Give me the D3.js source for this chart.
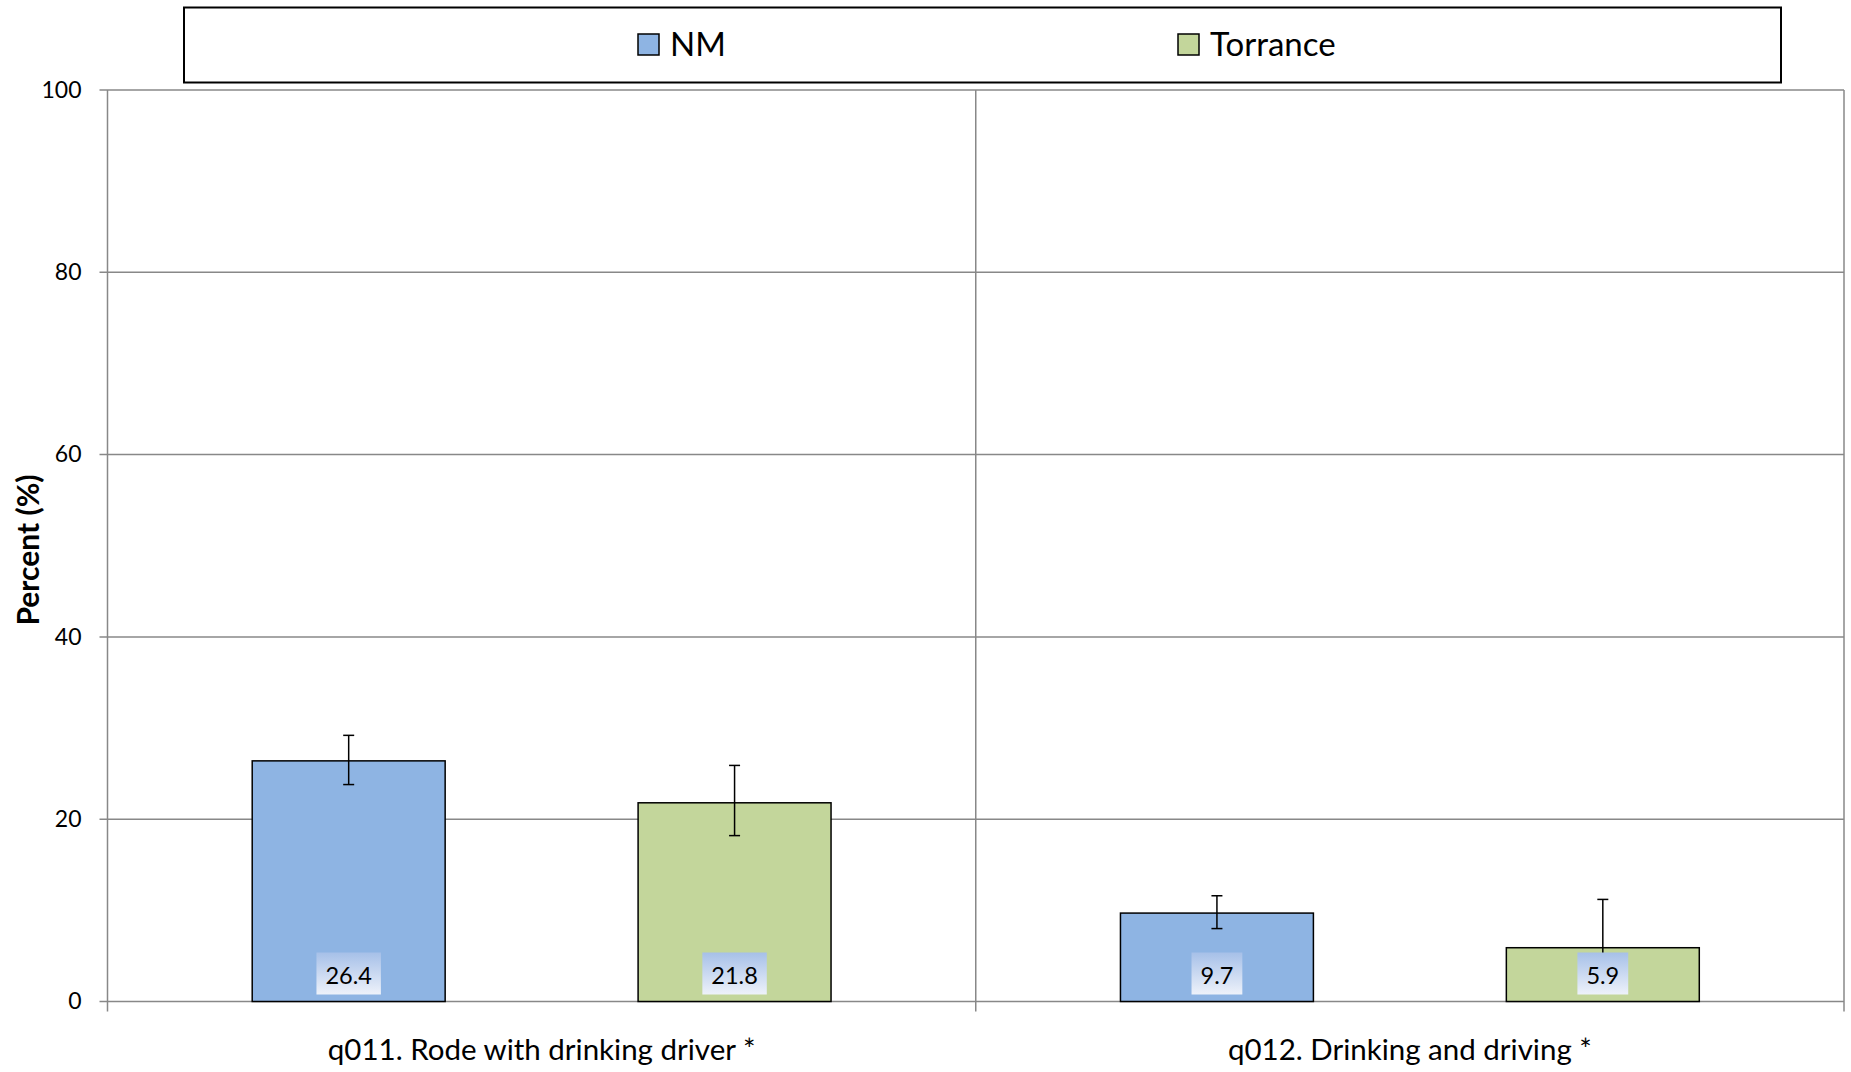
<!DOCTYPE html>
<html>
<head>
<meta charset="utf-8">
<script src="https://cdn.jsdelivr.net/npm/d3@7"></script>
<style>
  html, body { margin: 0; padding: 0; background: #fff; }
  svg { display: block; }
  text { font-family: Lato, "Open Sans", sans-serif; fill: #000; }
</style>
</head>
<body>
<svg id="chart" width="1851" height="1072"></svg>
<script>
// ---- data ----
const categories = ["q011. Rode with drinking driver *", "q012. Drinking and driving *"];
const seriesNames = ["NM", "Torrance"];
const nmValues = [26.4, 9.7];
const torranceValues = [21.8, 5.9];
const nmLower = [23.8, 8.0];
const nmUpper = [29.2, 11.6];
const torranceLower = [18.2, 1.9];
const torranceUpper = [25.9, 11.2];
const yTicks = [0, 20, 40, 60, 80, 100];
const yTitle = "Percent (%)";

const seriesColors = { "NM": "#8EB4E3", "Torrance": "#C3D69B" };

const data = [];
categories.forEach((c, i) => {
  data.push({ cat: c, series: "NM", value: nmValues[i], lo: nmLower[i], hi: nmUpper[i] });
  data.push({ cat: c, series: "Torrance", value: torranceValues[i], lo: torranceLower[i], hi: torranceUpper[i] });
});

// ---- layout ----
const svg = d3.select("#chart");
const plot = { left: 107.5, right: 1844, top: 90, bottom: 1001.5 };
const gridColor = "#888888";

const y = d3.scaleLinear().domain([0, 100]).range([plot.bottom, plot.top]);
const x0 = d3.scaleBand().domain(categories).range([plot.left, plot.right]).padding(0);
const x1 = d3.scaleBand().domain(seriesNames).range([0, x0.bandwidth()])
  .paddingInner(0.5).paddingOuter(0.375);

const defs = svg.append("defs");
const grad = defs.append("linearGradient").attr("id", "lblGrad")
  .attr("x1", 0).attr("y1", 0).attr("x2", 0).attr("y2", 1);
grad.append("stop").attr("offset", "0%").attr("stop-color", "#a6c0e8");
grad.append("stop").attr("offset", "100%").attr("stop-color", "#eef2fa");

// horizontal gridlines
svg.append("g").selectAll("line").data(yTicks).join("line")
  .attr("x1", plot.left - 8).attr("x2", plot.right)
  .attr("y1", d => y(d)).attr("y2", d => y(d))
  .attr("stroke", gridColor).attr("stroke-width", 1.5);

// vertical category separators (incl. axis line)
const seps = [plot.left].concat(categories.map(c => x0(c) + x0.bandwidth()));
svg.append("g").selectAll("line").data(seps).join("line")
  .attr("x1", d => d).attr("x2", d => d)
  .attr("y1", plot.top).attr("y2", plot.bottom + 10)
  .attr("stroke", gridColor).attr("stroke-width", 1.5);

// y tick labels via axis
const yAxis = d3.axisLeft(y).tickValues(yTicks).tickSize(0).tickPadding(26);
const ya = svg.append("g").attr("transform", `translate(${plot.left},0)`).call(yAxis);
ya.select(".domain").remove();
ya.selectAll("text").attr("font-size", 23).attr("font-family", "Lato, sans-serif").attr("fill", "#000");

// bars
const groups = svg.append("g").selectAll("g").data(data).join("g")
  .attr("transform", d => `translate(${x0(d.cat)},0)`);

groups.append("rect")
  .attr("x", d => x1(d.series))
  .attr("y", d => y(d.value))
  .attr("width", x1.bandwidth())
  .attr("height", d => y(0) - y(d.value))
  .attr("fill", d => seriesColors[d.series])
  .attr("stroke", "#000").attr("stroke-width", 1.5);

// error bars
const capW = 11;
groups.append("line")
  .attr("x1", d => x1(d.series) + x1.bandwidth() / 2)
  .attr("x2", d => x1(d.series) + x1.bandwidth() / 2)
  .attr("y1", d => y(d.hi)).attr("y2", d => y(d.lo))
  .attr("stroke", "#000").attr("stroke-width", 1.5);
groups.append("line")
  .attr("x1", d => x1(d.series) + x1.bandwidth() / 2 - capW / 2)
  .attr("x2", d => x1(d.series) + x1.bandwidth() / 2 + capW / 2)
  .attr("y1", d => y(d.hi)).attr("y2", d => y(d.hi))
  .attr("stroke", "#000").attr("stroke-width", 1.5);
groups.append("line")
  .attr("x1", d => x1(d.series) + x1.bandwidth() / 2 - capW / 2)
  .attr("x2", d => x1(d.series) + x1.bandwidth() / 2 + capW / 2)
  .attr("y1", d => y(d.lo)).attr("y2", d => y(d.lo))
  .attr("stroke", "#000").attr("stroke-width", 1.5);

// data labels
groups.each(function (d) {
  const g = d3.select(this);
  const cx = x1(d.series) + x1.bandwidth() / 2;
  const t = g.append("text")
    .attr("x", cx).attr("y", y(0) - 18)
    .attr("text-anchor", "middle")
    .attr("font-size", 23.5)
    .text(d.value.toFixed(1));
  const w = t.node().getComputedTextLength();
  g.insert("rect", "text:last-of-type")
    .attr("x", cx - w / 2 - 9).attr("y", y(0) - 49)
    .attr("width", w + 18).attr("height", 42)
    .attr("fill", "url(#lblGrad)");
});

// category labels
svg.append("g").selectAll("text").data(categories).join("text")
  .attr("x", d => x0(d) + x0.bandwidth() / 2)
  .attr("y", 1060)
  .attr("text-anchor", "middle")
  .attr("font-size", 29.5)
  .text(d => d);

// y title
svg.append("text")
  .attr("transform", `translate(39,550) rotate(-90)`)
  .attr("text-anchor", "middle")
  .attr("font-size", 30)
  .attr("font-weight", "bold")
  .text(yTitle);

// legend
const legend = svg.append("g");
legend.append("rect")
  .attr("x", 184).attr("y", 7.5).attr("width", 1597).attr("height", 75)
  .attr("fill", "#fff").attr("stroke", "#000").attr("stroke-width", 2);
const legendX = { "NM": 638, "Torrance": 1178 };
const li = legend.selectAll("g.item").data(seriesNames).join("g").attr("class", "item")
  .attr("transform", d => `translate(${legendX[d]},34)`);
li.append("rect").attr("width", 21).attr("height", 21)
  .attr("fill", d => seriesColors[d]).attr("stroke", "#000").attr("stroke-width", 1.5);
li.append("text").attr("x", 32).attr("y", 21.5).attr("font-size", 33).text(d => d);
</script>
</body>
</html>
